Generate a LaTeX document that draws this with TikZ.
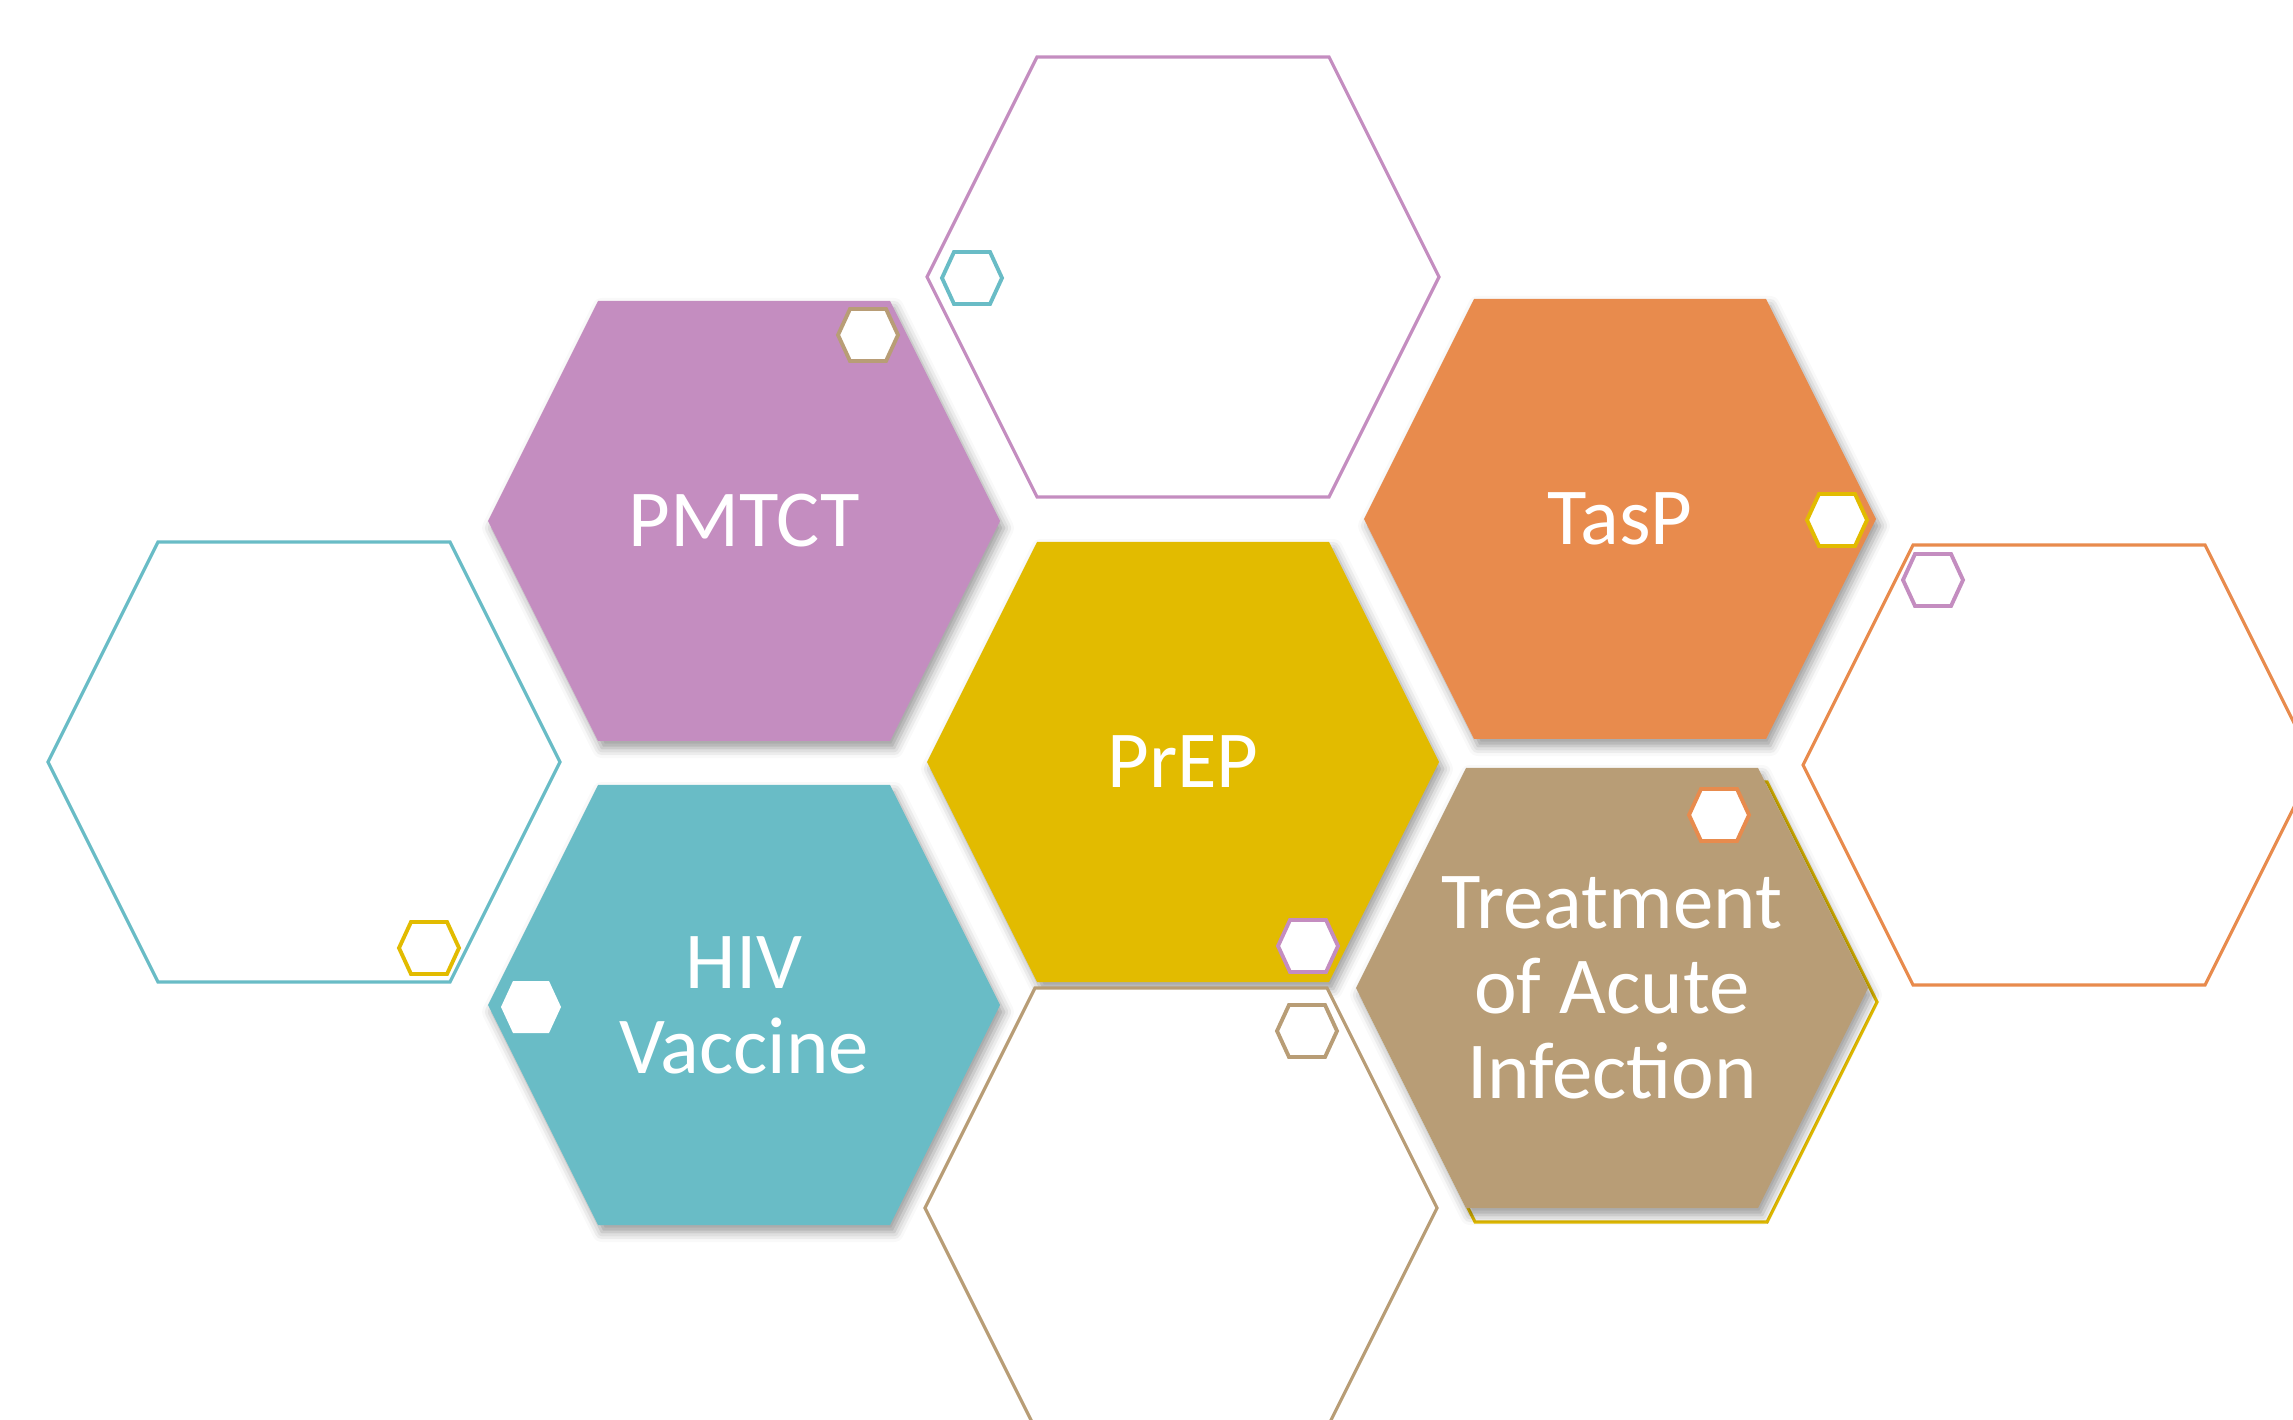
\documentclass[tikz,border=0pt]{standalone}
\usepackage{fontspec}
\setmainfont{Carlito}
\usetikzlibrary{shadows.blur}

\definecolor{hexpurple}{RGB}{196,141,192}
\definecolor{hexorange}{RGB}{232,139,77}
\definecolor{hexyellow}{RGB}{226,187,0}
\definecolor{hexteal}{RGB}{105,188,198}
\definecolor{hextan}{RGB}{184,157,118}

% 大六边形与小六边形(#1: 样式, #2: 中心)
\newcommand{\bighex}[2]{\path[#1, shift={(#2)}] (-256,0) -- (-146,-220) -- (146,-220) -- (256,0) -- (146,220) -- (-146,220) -- cycle;}
\newcommand{\tinyhex}[2]{\path[#1, shift={(#2)}] (-30,0) -- (-18,-26) -- (18,-26) -- (30,0) -- (18,26) -- (-18,26) -- cycle;}

\begin{document}
\begin{tikzpicture}[x=0.1mm, y=-0.1mm,
		ringhex/.style={draw=#1, line width=0.9pt, fill=white},
		fillhex/.style={fill=#1, blur shadow={shadow xshift=0.4mm, shadow yshift=-0.7mm, shadow blur radius=1mm, shadow opacity=40}},
		dothex/.style={draw=#1, line width=1.1pt, fill=white},
		hextext/.style={text=white, align=center, inner sep=0pt, font=\fontsize{23}{24.2}\selectfont}]
	\useasboundingbox (0,0) rectangle (2293,1420);
	\clip (0,0) rectangle (2293,1420);

	% 各六边形的中心
	\coordinate (c-top) at (1183,277);
	\coordinate (c-left) at (304,762);
	\coordinate (c-right) at (2059,765);
	\coordinate (c-bottom) at (1181,1208);
	\coordinate (c-ring) at (1621,1002);
	\coordinate (c-pmtct) at (744,521);
	\coordinate (c-tasp) at (1620,519);
	\coordinate (c-prep) at (1183,762);
	\coordinate (c-vaccine) at (744,1005);
	\coordinate (c-acute) at (1612,988);

	% 空心六边形
	\bighex{ringhex=hexpurple}{c-top}
	\bighex{ringhex=hexteal}{c-left}
	\bighex{ringhex=hexorange}{c-right}
	\bighex{ringhex=hexyellow}{c-ring}

	% 实心六边形
	\bighex{fillhex=hexpurple}{c-pmtct}
	\bighex{fillhex=hexorange}{c-tasp}
	\bighex{fillhex=hexyellow}{c-prep}
	\bighex{fillhex=hexteal}{c-vaccine}
	\bighex{fillhex=hextan}{c-acute}

	% 下方空心六边形盖在阴影上
	\bighex{ringhex=hextan}{c-bottom}

	% 小六边形
	\tinyhex{dothex=hexteal}{972,278}
	\tinyhex{dothex=hextan}{868,335}
	\tinyhex{dothex=hexyellow}{1837,520}
	\tinyhex{dothex=hexpurple}{1933,580}
	\tinyhex{dothex=hexyellow}{429,948}
	\tinyhex{fill=white}{531,1007}
	\tinyhex{dothex=hexpurple}{1308,946}
	\tinyhex{dothex=hextan}{1307,1031}
	\tinyhex{dothex=hexorange}{1719,815}

	% 文字
	\node[hextext] (pmtct) at (c-pmtct) {PMTCT};
	\node[hextext] (tasp) at (c-tasp) {TasP};
	\node[hextext] (prep) at (c-prep) {PrEP};
	\node[hextext] (vaccine) at (c-vaccine) {HIV\\Vaccine};
	\node[hextext] (acute) at (c-acute) {Treatment\\of Acute\\Infection};
\end{tikzpicture}
\end{document}
